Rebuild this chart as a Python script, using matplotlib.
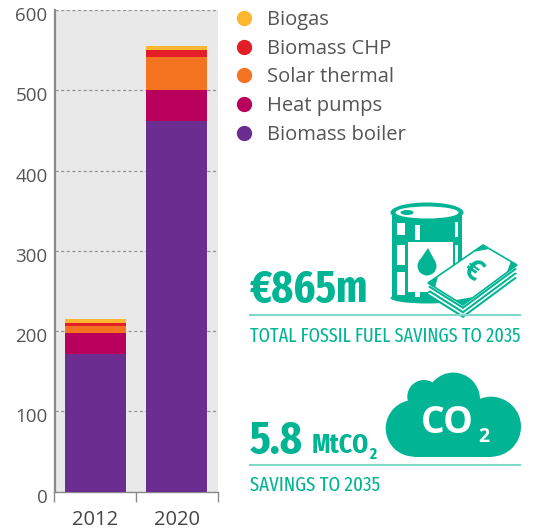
import matplotlib
matplotlib.use("Agg")
import matplotlib.pyplot as plt
from matplotlib.lines import Line2D
from matplotlib.patches import Circle, Ellipse, Polygon, Rectangle
from matplotlib.transforms import ScaledTranslation

plt.rcParams['font.family'] = ['Open Sans', 'DejaVu Sans']

years = ["2012", "2020"]
techs = ["Biomass boiler", "Heat pumps", "Solar thermal", "Biomass CHP", "Biogas"]
biomass_boiler = [172, 462]
heat_pumps = [26, 38]
solar_thermal = [9, 42]
biomass_chp = [3, 8]
biogas = [5, 5]
colors = ["#6c2d91", "#b9005c", "#f47321", "#e31e26", "#fdb62f"]
yticks = [0, 100, 200, 300, 400, 500, 600]

teal = "#00b494"
teal_line = "#7fd9c9"
narrow = ['Fira Sans Extra Condensed', 'Liberation Sans', 'DejaVu Sans']

W, H = 537, 530
fig = plt.figure(figsize=(W / 100, H / 100), dpi=100)
ax = fig.add_axes([54.5 / W, 1 - 491.7 / H, 163 / W, 481.7 / H])

# 積み上げ棒
series = [biomass_boiler, heat_pumps, solar_thermal, biomass_chp, biogas]
bottom = [0, 0]
for vals, c in zip(series, colors):
    ax.bar(years, vals, bottom=bottom, width=0.75, color=c, zorder=3)
    bottom = [b + v for b, v in zip(bottom, vals)]

ax.set_xlim(-0.5, 1.5)
ax.set_ylim(0, 600)
ax.set_yticks(yticks)
ax.set_xticks([-0.5, 0.5, 1.5])
ax.set_xticklabels([])
ax.set_facecolor("#e9e9e9")
ax.grid(axis="y", color="#949494", linestyle=(0, (2.5, 2)), linewidth=0.9, zorder=1)
ax.tick_params(axis="y", length=0, labelsize=13.5, labelcolor="#555555", pad=5)
ax.tick_params(axis="x", length=7, color="#8a8a8a", width=1)
for s in ["top", "right"]:
    ax.spines[s].set_visible(False)
ax.spines["left"].set_color("#8a8a8a")
ax.spines["left"].set_linewidth(1.6)
ax.spines["bottom"].set_color("#8a8a8a")
ax.spines["bottom"].set_linewidth(1)
for lab in ax.get_yticklabels():  # 目盛ラベルは線より少し下
    lab.set_transform(lab.get_transform() + ScaledTranslation(0, -4 / 100, fig.dpi_scale_trans))
for i, y in enumerate(years):
    ax.text(i, -0.037, y, transform=ax.get_xaxis_transform(), ha="center", va="top",
            fontsize=14.5, color="#444444")

# 凡例(積み上げと逆順)
handles = [Line2D([], [], linestyle="", marker="o", markersize=10, color=c)
           for c in colors[::-1]]
fig.legend(handles, techs[::-1], loc="upper left", bbox_to_anchor=(232 / W, 1 - 10 / H),
           frameon=False, fontsize=14.5, labelcolor="#555555", labelspacing=0.43,
           handletextpad=0.55, handlelength=1.2, borderpad=0, borderaxespad=0)

# 右側のインフォグラフィック(ピクセル座標)
ov = fig.add_axes([0, 0, 1, 1])
ov.set_xlim(0, W)
ov.set_ylim(H, 0)
ov.axis("off")
ov.patch.set_alpha(0)

# 樽
ov.add_patch(Rectangle((392, 213), 70, 86, color=teal, lw=0))
ov.add_patch(Ellipse((427, 298), 73, 11, color=teal, lw=0))
for x0, x1, spans in [(397, 405, [(223, 235), (245, 265), (272, 295)]),
                      (415, 420, [(225, 240), (292, 297)]),
                      (455, 458, [(222, 237), (245, 270)])]:
    for y0, y1 in spans:
        ov.add_patch(Rectangle((x0, y0), x1 - x0, y1 - y0, color="white", lw=0))
ov.add_patch(Ellipse((427, 212.5), 73, 20, color=teal, lw=0))
ov.add_patch(Ellipse((427, 212.5), 63, 12, color="white", lw=0))
ov.add_patch(Ellipse((407, 212.5), 13, 5, color=teal, lw=0))
ov.add_patch(Rectangle((408, 242), 45, 50, color="white", lw=0))
ov.add_patch(Circle((427, 266), 9.5, color=teal, lw=0))
ov.add_patch(Polygon([(418.5, 262), (435.5, 262), (428, 248)], color=teal, lw=0))

# 札束
note = [(428, 283), (483, 245), (517, 265), (463, 305)]
for dy, c in [(13, teal), (10.5, "white"), (8.5, teal), (6, "white"), (4, teal), (1.5, "white")]:
    ov.add_patch(Polygon([(x, y + dy) for x, y in note], closed=True, color=c, lw=0))
ov.add_patch(Polygon(note, closed=True, color=teal, lw=0))
ov.add_patch(Polygon([(438, 276), (473, 252), (489, 249), (511, 261), (507, 272),
                      (473, 297), (456, 300), (435, 288)], closed=True, color="white", lw=0))
ov.add_patch(Polygon(note, closed=True, fill=False, ec=teal, lw=1.2))
ov.text(472, 272, "€", color=teal, fontsize=21, fontweight="bold", ha="center", va="center",
        rotation=-35, rotation_mode="anchor")

ov.text(250, 302, "€865m", color=teal, fontsize=32.5, fontweight="bold", ha="left",
        va="baseline", family=narrow)
ov.plot([250, 520], [315, 315], color=teal_line, lw=1.5)
ov.text(250, 342, "TOTAL FOSSIL FUEL SAVINGS TO 2035", color=teal, fontsize=14.3,
        ha="left", va="baseline", family=narrow)

# 雲
for (cx, cy, r) in [(414, 428.3, 28.3), (491, 426.7, 30), (453.3, 399.3, 26.7), (424, 396.7, 16.7)]:
    ov.add_patch(Circle((cx, cy), r, color=teal, lw=0))
ov.add_patch(Rectangle((414, 410), 78, 46.7, color=teal, lw=0))
ov.text(421, 433, "CO", color="white", fontsize=27, fontweight="bold", ha="left", va="baseline")
ov.text(478, 442, "2", color="white", fontsize=14, fontweight="bold", ha="left", va="baseline")

ov.text(250, 452.7, "5.8", color=teal, fontsize=33, fontweight="bold", ha="left",
        va="baseline", family=narrow)
ov.text(312, 452.7, "MtCO", color=teal, fontsize=20, fontweight="bold", ha="left",
        va="baseline", family=narrow)
ov.text(369, 459, "2", color=teal, fontsize=12, fontweight="bold", ha="left",
        va="baseline", family=narrow)
ov.plot([250, 520], [465, 465], color=teal_line, lw=1.5)
ov.text(250, 490.7, "SAVINGS TO 2035", color=teal, fontsize=14.8, ha="left", va="baseline",
        family=narrow)

fig.savefig("out.png", dpi=100)
